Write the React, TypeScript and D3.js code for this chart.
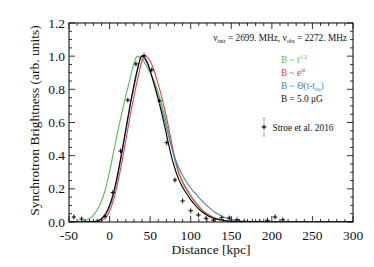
import React from 'react';
import * as d3 from 'd3';

// Stroe et al. 2016 profile
const stroeX = [-44, -34.5, -24.8, -15.2, -5.5, 4, 13.5, 22.5, 32.5, 42.5, 52, 61.5, 70.5, 80.5, 90, 100, 109.5, 119, 128, 138, 147.5, 157, 166, 176, 185, 194.5, 204, 213.5];
const stroeY = [0.03, 0.018, 0.003, 0.003, 0.035, 0.177, 0.428, 0.735, 0.953, 1.003, 0.917, 0.73, 0.478, 0.253, 0.127, 0.068, 0.042, 0.022, 0.012, 0.026, 0.024, 0.013, 0.004, 0.003, 0.004, 0.01, 0.03, 0.013];
const stroeErr = 0.02;

// model curves
const greenX = [-50, -45, -40, -35, -30, -25, -20, -15, -10, -5, 0, 5, 10, 15, 20, 25, 28, 31, 34, 38, 42, 46, 50, 55, 60, 65, 70, 75, 80, 85, 90, 95, 100, 105, 110, 115, 120, 125, 130, 135, 140, 150, 160, 170, 180, 300];
const greenY = [0, 0, 0.002, 0.005, 0.011, 0.022, 0.042, 0.075, 0.125, 0.2, 0.305, 0.425, 0.545, 0.655, 0.76, 0.86, 0.92, 0.968, 1.0, 0.99, 0.97, 0.935, 0.9, 0.85, 0.78, 0.695, 0.6, 0.49, 0.38, 0.295, 0.235, 0.19, 0.155, 0.12, 0.09, 0.066, 0.048, 0.034, 0.024, 0.017, 0.012, 0.005, 0.002, 0.0007, 0, 0];

const redX = [-50, -25, -20, -15, -10, -5, 0, 5, 10, 15, 20, 25, 30, 35, 40, 44, 48, 52, 56, 60, 65, 70, 75, 80, 85, 90, 95, 100, 105, 110, 115, 120, 125, 130, 135, 140, 150, 160, 170, 185, 300];
const redY = [0, 0, 0.001, 0.003, 0.008, 0.025, 0.065, 0.135, 0.235, 0.355, 0.49, 0.63, 0.755, 0.87, 0.972, 1.0, 0.985, 0.95, 0.895, 0.83, 0.74, 0.635, 0.515, 0.395, 0.305, 0.245, 0.2, 0.16, 0.125, 0.094, 0.069, 0.05, 0.035, 0.024, 0.017, 0.011, 0.0045, 0.0017, 0.0006, 0, 0];

const blueX = [-50, -25, -20, -15, -10, -5, 0, 5, 10, 15, 20, 25, 30, 35, 39, 45, 50, 55, 60, 65, 70, 75, 80, 85, 90, 95, 100, 105, 110, 115, 120, 125, 130, 135, 140, 145, 150, 155, 160, 170, 180, 190, 300];
const blueY = [0, 0, 0.002, 0.006, 0.016, 0.042, 0.09, 0.165, 0.275, 0.405, 0.545, 0.685, 0.81, 0.925, 1.0, 0.97, 0.91, 0.835, 0.755, 0.665, 0.57, 0.475, 0.395, 0.33, 0.28, 0.24, 0.205, 0.175, 0.148, 0.122, 0.099, 0.078, 0.059, 0.044, 0.032, 0.022, 0.016, 0.011, 0.007, 0.0025, 0.0007, 0, 0];

const blackX = [-50, -30, -25, -20, -15, -10, -5, 0, 5, 10, 15, 20, 25, 30, 35, 39.6, 44, 48, 52, 56, 60, 65, 70, 75, 80, 85, 90, 95, 100, 105, 110, 115, 120, 125, 130, 135, 140, 150, 160, 170, 185, 300];
const blackY = [0, 0, 0.001, 0.003, 0.008, 0.02, 0.05, 0.1, 0.18, 0.29, 0.42, 0.56, 0.7, 0.825, 0.935, 1.0, 0.985, 0.945, 0.88, 0.81, 0.74, 0.64, 0.53, 0.42, 0.33, 0.26, 0.21, 0.17, 0.135, 0.104, 0.078, 0.057, 0.041, 0.029, 0.02, 0.014, 0.0095, 0.004, 0.0015, 0.0005, 0, 0];

const xTicks = [-50, 0, 50, 100, 150, 200, 250, 300];
const yTicks = [0, 0.2, 0.4, 0.6, 0.8, 1.0, 1.2];

const GREEN = '#55bb55';
const RED = '#e8413c';
const BLUE = '#3a87d0';
const GREY = '#999999';
const FONT = "'Liberation Serif', 'DejaVu Serif', serif";

const W = 374;
const H = 267;
const L = 69, R = 353, T = 23, B = 222;

const App: React.FC = () => {
  const x = d3.scaleLinear().domain([-50, 300]).range([L, R]);
  const y = d3.scaleLinear().domain([0, 1.2]).range([B, T]);

  const line = d3.line<[number, number]>()
    .x(d => x(d[0]))
    .y(d => y(d[1]))
    .curve(d3.curveMonotoneX);

  const curves = [
    { xs: greenX, ys: greenY, color: GREEN },
    { xs: redX, ys: redY, color: RED },
    { xs: blueX, ys: blueY, color: BLUE },
    { xs: blackX, ys: blackY, color: '#000' },
  ];

  const xMinor = d3.range(-50, 301, 10);
  const yMinor = d3.range(0, 1.2001, 0.05);
  const fs = 9.3;
  const sub = 5.8;

  return (
    <svg width={W} height={H} style={{ position: 'absolute', left: 0, top: 0, background: '#fff', fontFamily: FONT }}>
      <defs>
        <clipPath id="plot">
          <rect x={L} y={T} width={R - L} height={B - T} />
        </clipPath>
      </defs>

      {/* curves */}
      <g clipPath="url(#plot)" fill="none" strokeWidth={1.1}>
        {curves.map((c, i) => (
          <path key={i} d={line(c.xs.map((v, j) => [v, c.ys[j]] as [number, number])) || ''} stroke={c.color} />
        ))}
      </g>

      {/* data points */}
      <g clipPath="url(#plot)">
        {stroeX.map((v, i) => {
          const cx = x(v), cy = y(stroeY[i]);
          const y0 = y(stroeY[i] - stroeErr), y1 = y(stroeY[i] + stroeErr);
          return (
            <g key={i}>
              <line x1={cx} x2={cx} y1={y0} y2={y1} stroke={GREY} strokeWidth={0.8} />
              <line x1={cx - 2.2} x2={cx + 2.2} y1={cy} y2={cy} stroke="#000" strokeWidth={1} />
              <line x1={cx} x2={cx} y1={cy - 2} y2={cy + 2} stroke="#000" strokeWidth={1} />
            </g>
          );
        })}
      </g>

      {/* frame */}
      <rect x={L} y={T} width={R - L} height={B - T} fill="none" stroke="#000" strokeWidth={1} />

      {/* ticks */}
      <g stroke="#000" strokeWidth={0.8}>
        {xMinor.map((v, i) => {
          const len = xTicks.includes(v) ? 6 : 3;
          return (
            <g key={i}>
              <line x1={x(v)} x2={x(v)} y1={B} y2={B - len} />
              <line x1={x(v)} x2={x(v)} y1={T} y2={T + len} />
            </g>
          );
        })}
        {yMinor.map((v, i) => {
          const major = Math.abs(v / 0.2 - Math.round(v / 0.2)) < 1e-6;
          const len = major ? 6 : 3;
          return (
            <g key={i}>
              <line x1={L} x2={L + len} y1={y(v)} y2={y(v)} />
              <line x1={R} x2={R - len} y1={y(v)} y2={y(v)} />
            </g>
          );
        })}
      </g>

      {/* tick labels */}
      <g fontSize={13.5} fill="#111">
        {xTicks.map(v => (
          <text key={v} x={x(v)} y={240} textAnchor="middle">{v}</text>
        ))}
        {yTicks.map(v => (
          <text key={v} x={65} y={y(v) + 4.5} textAnchor="end">{v.toFixed(1)}</text>
        ))}
      </g>

      {/* axis titles */}
      <text x={(L + R) / 2} y={254} textAnchor="middle" fontSize={13.5} fill="#111">Distance [kpc]</text>
      <text transform={`translate(39,${(T + B) / 2 - 2}) rotate(-90)`} textAnchor="middle" fontSize={13.5} fill="#111">
        Synchrotron Brightness (arb. units)
      </text>

      {/* annotation */}
      <text x={347} y={41} textAnchor="end" fontSize={fs} fill="#111">
        ν<tspan fontSize={sub} dy={2}>intr</tspan><tspan dy={-2}> = 2699. MHz, ν</tspan><tspan fontSize={sub} dy={2}>obs</tspan><tspan dy={-2}> = 2272. MHz</tspan>
      </text>

      {/* legend */}
      <g fontSize={fs}>
        <text x={281} y={63} fill={GREEN}>B ~ t<tspan fontSize={sub} dy={-4}>1/2</tspan></text>
        <text x={281} y={76} fill={RED}>B ~ e<tspan fontSize={sub} dy={-4}>αt</tspan></text>
        <text x={281} y={89} fill={BLUE}>B ~ Θ(t-t<tspan fontSize={sub} dy={2}>eq</tspan><tspan dy={-2}>)</tspan></text>
        <text x={281} y={102} fill="#111">B = 5.0 μG</text>
      </g>
      <g>
        <line x1={264} x2={264} y1={118} y2={136} stroke={GREY} strokeWidth={0.8} />
        <line x1={262.5} x2={265.5} y1={118} y2={118} stroke={GREY} strokeWidth={0.8} />
        <line x1={262.5} x2={265.5} y1={136} y2={136} stroke={GREY} strokeWidth={0.8} />
        <line x1={261.5} x2={266.5} y1={127} y2={127} stroke="#000" strokeWidth={1} />
        <line x1={264} x2={264} y1={125} y2={129} stroke="#000" strokeWidth={1} />
        <text x={272.5} y={130.5} fontSize={fs} fill="#111">Stroe et al. 2016</text>
      </g>
    </svg>
  );
};

export default App;
